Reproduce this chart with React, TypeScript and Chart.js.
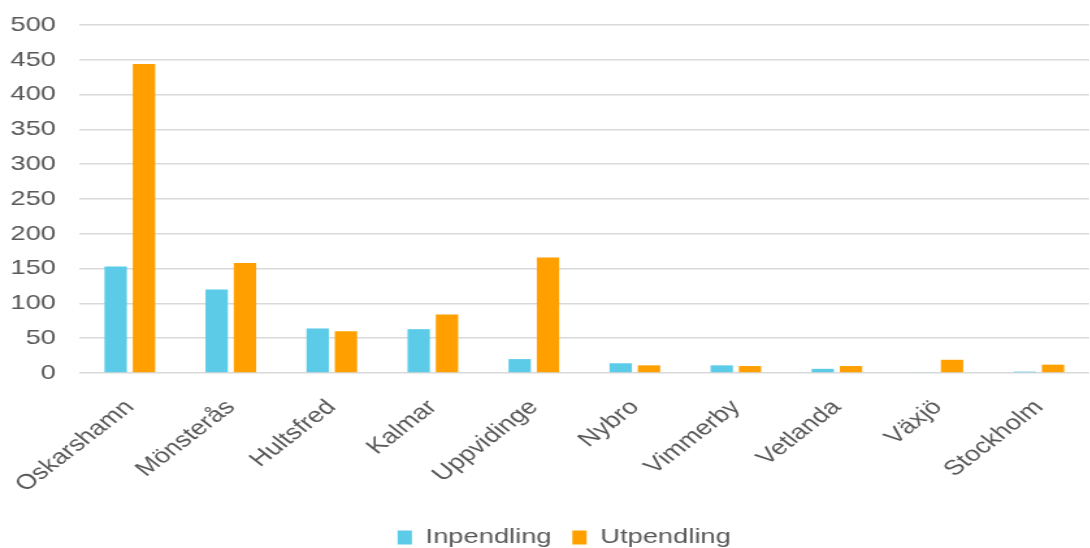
import React, { useEffect, useRef } from "react";
import { Chart, registerables } from "chart.js";

Chart.register(...registerables);

const categories = [
  "Oskarshamn",
  "Mönsterås",
  "Hultsfred",
  "Kalmar",
  "Uppvidinge",
  "Nybro",
  "Vimmerby",
  "Vetlanda",
  "Växjö",
  "Stockholm",
];
const inpendling = [153, 120, 64, 63, 20, 14, 11, 6, 1, 2];
const utpendling = [444, 158, 60, 84, 166, 11, 10, 10, 19, 12];
const yTicks = [0, 50, 100, 150, 200, 250, 300, 350, 400, 450, 500];

const STRETCH = 1.3;
const W = Math.round(1090 / STRETCH);
const H = 558;

const legendShift = {
  id: "legendShift",
  afterLayout(chart: any) {
    if (chart.legend) {
      chart.legend.left += 15;
      chart.legend.right += 15;
    }
  },
};

export default function App() {
  const ref = useRef<HTMLCanvasElement | null>(null);
  useEffect(() => {
    const canvas = ref.current!;
    const font = { family: "'Liberation Sans', Arial, sans-serif", size: 21 };
    const chart = new Chart(canvas, {
      type: "bar",
      data: {
        labels: categories,
        datasets: [
          {
            label: "Inpendling",
            data: inpendling,
            backgroundColor: "#5BCBE8",
            categoryPercentage: 0.56,
            barPercentage: 0.79,
          },
          {
            label: "Utpendling",
            data: utpendling,
            backgroundColor: "#FFA000",
            categoryPercentage: 0.56,
            barPercentage: 0.79,
          },
        ],
      },
      plugins: [legendShift],
      options: {
        animation: false,
        responsive: false,
        devicePixelRatio: 1,
        layout: { padding: { top: 25, left: 0, right: 0, bottom: 0 } },
        plugins: {
          tooltip: { enabled: false },
          legend: {
            position: "bottom",
            labels: {
              font,
              color: "#595959",
              boxWidth: 11,
              boxHeight: 14,
              padding: 16,
            },
          },
        },
        scales: {
          x: {
            grid: { display: false },
            border: { display: false },
            afterFit: (scale: any) => {
              scale.paddingLeft = 0;
              scale.paddingRight = 0;
            },
            ticks: {
              font,
              color: "#595959",
              maxRotation: 45,
              minRotation: 45,
              padding: 14,
              autoSkip: false,
            },
          },
          y: {
            min: 0,
            max: 500,
            afterBuildTicks: (axis: any) => {
              axis.ticks = yTicks.map((v) => ({ value: v }));
            },
            afterFit: (scale: any) => {
              scale.paddingTop = 0;
              scale.paddingBottom = 0;
              scale.width = 61;
            },
            grid: { color: "#d9d9d9", lineWidth: 1.5, drawTicks: false },
            border: { display: false },
            ticks: { font, color: "#595959", padding: 18 },
          },
        },
      },
    });
    return () => chart.destroy();
  }, []);
  return (
    <div
      style={{
        position: "absolute",
        left: 0,
        top: 0,
        width: 1090,
        height: 548,
        overflow: "hidden",
        background: "#fff",
      }}
    >
      <canvas
        ref={ref}
        width={W}
        height={H}
        style={{ transform: `scaleX(${STRETCH})`, transformOrigin: "0 0", display: "block" }}
      />
    </div>
  );
}
